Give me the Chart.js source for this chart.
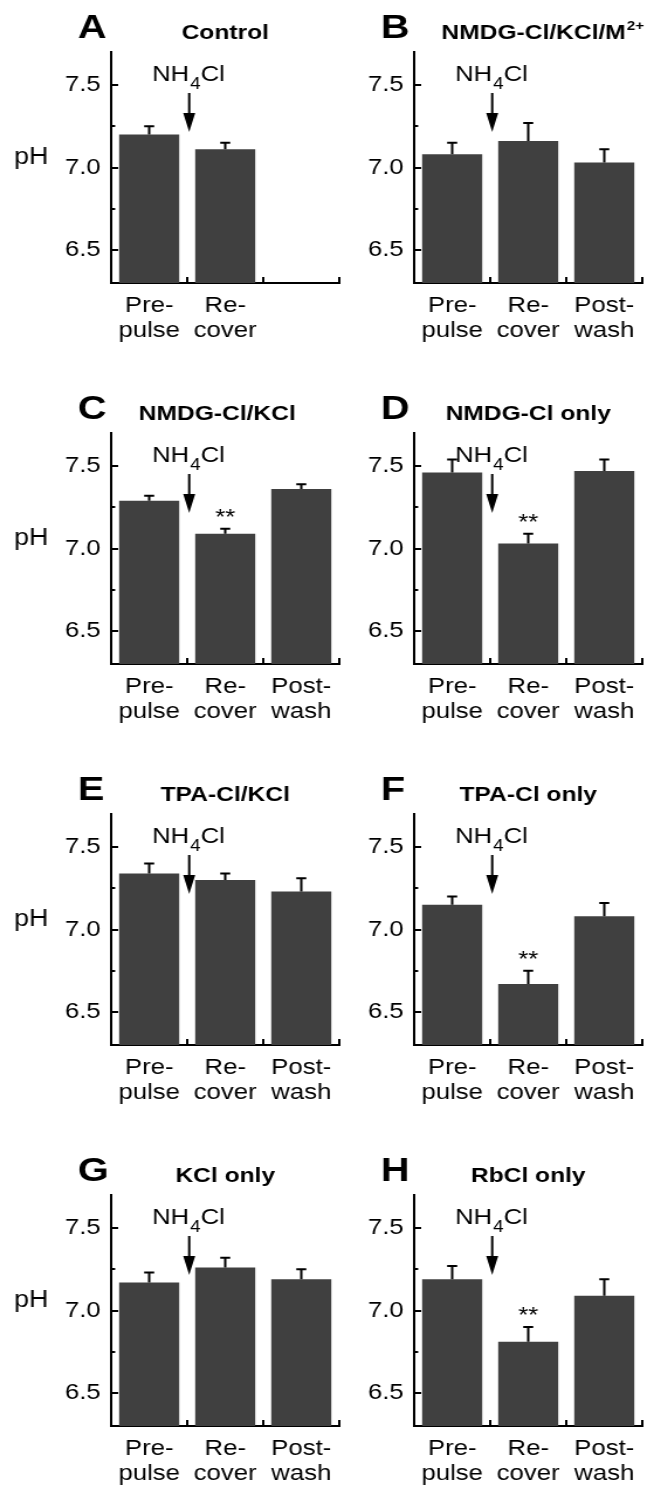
<!DOCTYPE html>
<html>
<head>
<meta charset="utf-8">
<script src="https://cdn.jsdelivr.net/npm/chart.js@4.4.0/dist/chart.umd.min.js"></script>
<style>
  html, body { margin: 0; padding: 0; background: #fff; overflow: hidden; }
  body { width: 648px; height: 1487px; position: relative; }
  .painel { position: absolute; width: 295px; height: 345px; transform: scaleX(1.17); transform-origin: 0 0; }
  .painel canvas { display: block; }
</style>
</head>
<body>
<div id="figura"></div>
<script>
// dados
const categorias = [['Pre-', 'pulse'], ['Re-', 'cover'], ['Post-', 'wash']];
const letras = ['A', 'B', 'C', 'D', 'E', 'F', 'G', 'H'];
const titulos = ['Control', 'NMDG-Cl/KCl/M', 'NMDG-Cl/KCl', 'NMDG-Cl only', 'TPA-Cl/KCl', 'TPA-Cl only', 'KCl only', 'RbCl only'];
const titulosSup = ['', '2+', '', '', '', '', '', ''];
const mediaPH = [
  [7.20, 7.11, null],
  [7.08, 7.16, 7.03],
  [7.29, 7.09, 7.36],
  [7.46, 7.03, 7.47],
  [7.34, 7.30, 7.23],
  [7.15, 6.67, 7.08],
  [7.17, 7.26, 7.19],
  [7.19, 6.81, 7.09]
];
const erroPH = [
  [0.05, 0.04, null],
  [0.07, 0.11, 0.08],
  [0.03, 0.03, 0.03],
  [0.08, 0.06, 0.07],
  [0.06, 0.04, 0.08],
  [0.05, 0.08, 0.08],
  [0.06, 0.06, 0.06],
  [0.08, 0.09, 0.10]
];
const signif = [
  ['', '', ''], ['', '', ''], ['', '**', ''], ['', '**', ''],
  ['', '', ''], ['', '**', ''], ['', '', ''], ['', '**', '']
];
const ticksY = [6.5, 7.0, 7.5];
const ticksYMenores = [6.75, 7.25];
const faixaY = [6.3, 7.7];
const anotacao = ['NH', '4', 'Cl'];

const S = 1.17; // esticamento horizontal da figura original
const FONTE = '"Liberation Sans", Arial, sans-serif';
const desvioTitulo = [0, 14, -8, 0, 0, 0, 0, 0];

const decoracao = {
  id: 'decoracao',
  afterDatasetsDraw(chart, args, opts) {
    const i = opts.indice;
    const { ctx, scales: { y } } = chart;
    const meta = chart.getDatasetMeta(0);
    ctx.save();
    ctx.strokeStyle = '#000';
    ctx.lineWidth = 2;
    meta.data.forEach((barra, j) => {
      const m = mediaPH[i][j], e = erroPH[i][j];
      if (m == null) return;
      const yt = y.getPixelForValue(m + e);
      ctx.beginPath();
      ctx.moveTo(barra.x, barra.y);
      ctx.lineTo(barra.x, yt);
      ctx.moveTo(barra.x - 5 / S, yt);
      ctx.lineTo(barra.x + 5 / S, yt);
      ctx.stroke();
      if (signif[i][j]) {
        ctx.fillStyle = '#000';
        ctx.font = '22px ' + FONTE;
        ctx.textAlign = 'center';
        ctx.textBaseline = 'alphabetic';
        ctx.fillText(signif[i][j], barra.x, yt - 5);
      }
    });
    ctx.restore();
  },
  afterDraw(chart, args, opts) {
    const i = opts.indice;
    const { ctx, chartArea: area, scales: { x, y } } = chart;
    ctx.save();
    ctx.strokeStyle = '#000';
    ctx.fillStyle = '#000';
    ctx.lineWidth = 2;

    // ticks para dentro
    ctx.beginPath();
    ticksY.forEach(v => {
      const py = Math.round(y.getPixelForValue(v));
      ctx.moveTo(area.left, py); ctx.lineTo(area.left + 7 / S, py);
    });
    ticksYMenores.forEach(v => {
      const py = Math.round(y.getPixelForValue(v));
      ctx.moveTo(area.left, py); ctx.lineTo(area.left + 4 / S, py);
    });
    const larg = x.getPixelForValue(1) - x.getPixelForValue(0);
    for (let j = 0; j < categorias.length; j++) {
      const px = x.getPixelForValue(j) + larg / 2;
      ctx.moveTo(px, area.bottom); ctx.lineTo(px, area.bottom - 6);
    }
    ctx.stroke();

    // seta NH4Cl
    const ax = x.getPixelForValue(0) + larg / 2 + 2 / S;
    ctx.beginPath();
    ctx.moveTo(ax, 93); ctx.lineTo(ax, 114);
    ctx.stroke();
    ctx.beginPath();
    ctx.moveTo(ax - 6 / S, 113); ctx.lineTo(ax + 6 / S, 113); ctx.lineTo(ax, 132);
    ctx.closePath(); ctx.fill();

    ctx.textBaseline = 'alphabetic';
    ctx.font = '22px ' + FONTE;
    ctx.textAlign = 'right';
    ctx.fillText(anotacao[0], ax, 81);
    ctx.textAlign = 'left';
    ctx.font = '16px ' + FONTE;
    ctx.fillText(anotacao[1], ax + 1 / S, 89);
    const w4 = ctx.measureText(anotacao[1]).width;
    ctx.font = '22px ' + FONTE;
    ctx.fillText(anotacao[2], ax + 1 / S + w4, 81);

    // letra do painel
    ctx.font = 'bold 34px ' + FONTE;
    ctx.textAlign = 'left';
    ctx.fillText(letras[i], 66.5, 38);

    // titulo
    ctx.font = 'bold 21px ' + FONTE;
    const wT = ctx.measureText(titulos[i]).width;
    ctx.font = 'bold 13px ' + FONTE;
    const wS = titulosSup[i] ? ctx.measureText(titulosSup[i]).width : 0;
    const cx = (area.left + area.right) / 2 + desvioTitulo[i] / S;
    const x0 = cx - (wT + wS) / 2;
    ctx.font = 'bold 21px ' + FONTE;
    ctx.fillText(titulos[i], x0, 39);
    if (wS) {
      ctx.font = 'bold 13px ' + FONTE;
      ctx.fillText(titulosSup[i], x0 + wT + 1, 30);
    }

    // rotulo pH so na coluna da esquerda
    if (i % 2 === 0) {
      ctx.font = '23px ' + FONTE;
      ctx.fillText('pH', 12, 164);
    }
    ctx.restore();
  }
};

const figura = document.getElementById('figura');
for (let i = 0; i < letras.length; i++) {
  const div = document.createElement('div');
  div.className = 'painel';
  div.style.left = (i % 2 === 0 ? 0 : 303) + 'px';
  div.style.top = (Math.floor(i / 2) * 381) + 'px';
  const canvas = document.createElement('canvas');
  canvas.width = 295;
  canvas.height = 345;
  div.appendChild(canvas);
  figura.appendChild(div);

  const rotulos = categorias.map((c, j) => mediaPH[i][j] == null ? '' : c);

  new Chart(canvas.getContext('2d'), {
    type: 'bar',
    data: {
      labels: rotulos,
      datasets: [{
        data: mediaPH[i],
        base: faixaY[0],
        backgroundColor: '#404040',
        borderWidth: 0,
        barPercentage: 0.79,
        categoryPercentage: 1
      }]
    },
    options: {
      responsive: false,
      animation: false,
      layout: { padding: { top: 52, right: 5, left: 0, bottom: 0 } },
      plugins: {
        legend: { display: false },
        tooltip: { enabled: false },
        decoracao: { indice: i }
      },
      scales: {
        x: {
          grid: { display: true, drawOnChartArea: false, drawTicks: false },
          border: { display: true, color: '#000', width: 2 },
          ticks: { color: '#000', font: { family: FONTE, size: 22, lineHeight: 1.15 }, padding: 10, maxRotation: 0, autoSkip: false },
          afterFit(s) { s.height = 62; }
        },
        y: {
          min: faixaY[0],
          max: faixaY[1],
          grid: { display: true, drawOnChartArea: false, drawTicks: false },
          border: { display: true, color: '#000', width: 2 },
          ticks: { color: '#000', font: { family: FONTE, size: 22 }, padding: 9, callback: v => v.toFixed(1) },
          afterBuildTicks(s) { s.ticks = ticksY.map(v => ({ value: v })); },
          afterFit(s) { s.width = 95; }
        }
      }
    },
    plugins: [decoracao]
  });
}
</script>
</body>
</html>
